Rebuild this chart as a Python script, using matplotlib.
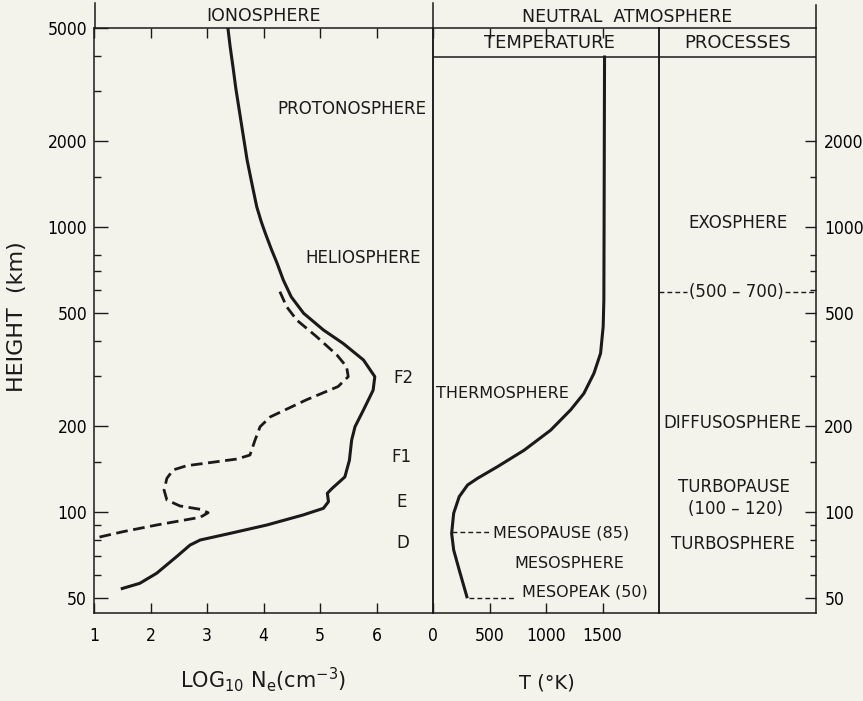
import numpy as np
import matplotlib.pyplot as plt
from matplotlib import font_manager
from matplotlib.lines import Line2D
from matplotlib.ticker import FixedLocator, NullFormatter, NullLocator

# ionosphere electron density, log10 Ne vs height (km)
ne_solid_x = [3.37, 3.41, 3.46, 3.51, 3.57, 3.64, 3.71, 3.80, 3.88, 3.96, 4.03, 4.14, 4.24,
              4.35, 4.49, 4.71, 5.06, 5.41, 5.77, 5.97, 5.94, 5.77, 5.62, 5.56, 5.52, 5.44,
              5.21, 5.13, 5.15, 5.06, 4.70, 4.06, 3.41, 2.88, 2.70, 2.46, 2.11, 1.81, 1.50]
ne_solid_h = [5000, 4297, 3650, 3071, 2580, 2106, 1720, 1406, 1180, 1046, 955, 836, 748,
              653, 570, 499, 436, 391, 342, 299, 268, 228.6, 199.6, 179, 152, 133,
              121, 116.5, 108.9, 103.2, 97.8, 90.2, 84.3, 79.9, 76.7, 69.8, 61.1, 56.3, 54.0]
ne_dash_x = [4.29, 4.41, 4.59, 4.94, 5.30, 5.47, 5.50, 5.32, 4.76, 4.12, 3.94, 3.85, 3.76,
             3.53, 2.64, 2.40, 2.29, 2.24, 2.29, 2.52, 2.88, 3.02, 2.88, 2.11, 1.52, 1.0]
ne_dash_h = [594, 526, 472, 413, 356, 324, 299, 276, 248, 216, 199.6, 179, 158.7,
             153.7, 145.6, 140.7, 131.5, 119.6, 110.4, 105.2, 102.4, 99.6, 96.0, 90.2, 85.5, 81.0]

# neutral temperature (K) vs height (km)
temp_T = [1518, 1514, 1512, 1506, 1483, 1424, 1335, 1218, 1041, 806, 571, 394, 306, 232,
          183, 165, 183, 232, 300]
temp_h = [3955, 1000, 555, 448, 361, 307, 261, 228.6, 194, 165, 144.5, 131.5, 124.6, 113.4,
          99.2, 84.3, 73.7, 62.7, 50.5]

height_ticks = [50, 100, 200, 500, 1000, 2000, 5000]
height_minor = [60, 70, 80, 90, 150, 300, 400, 600, 700, 800, 1500, 3000, 4000]
ne_ticks = [1, 2, 3, 4, 5, 6]
temp_ticks = [0, 500, 1000, 1500]

iono_labels = [('PROTONOSPHERE', 5.57, 2600), ('HELIOSPHERE', 5.76, 780),
               ('F2', 6.47, 296), ('F1', 6.45, 156), ('E', 6.45, 108.7), ('D', 6.47, 78)]
proc_labels = [('EXOSPHERE', 0.50, 1035), ('DIFFUSOSPHERE', 0.47, 205),
               ('TURBOPAUSE', 0.48, 122.6), ('(100 – 120)', 0.49, 102.6),
               ('TURBOSPHERE', 0.47, 77.4)]

W, H = 863, 701
bg = '#f3f3ec'
ink = '#1a1a1a'


def has_font(name):
    try:
        font_manager.findfont(name, fallback_to_default=False)
        return True
    except Exception:
        return False


# tick numbers in the original are set in a narrow face
if has_font('Liberation Sans Narrow'):
    num_kw = dict(family='Liberation Sans Narrow', fontsize=15)
else:
    num_kw = dict(family='DejaVu Sans', fontstretch='condensed', fontsize=12.5)

plt.rcParams['font.family'] = ['DejaVu Sans']
plt.rcParams['axes.linewidth'] = 1.1
plt.rcParams['axes.edgecolor'] = ink

fig = plt.figure(figsize=(W / 100, H / 100), dpi=100, facecolor=bg)


def box(x0, x1, y0=28, y1=613):
    return [x0 / W, 1 - y1 / H, (x1 - x0) / W, (y1 - y0) / H]


ax1 = fig.add_axes(box(94, 433))
ax2 = fig.add_axes(box(433, 659))
ax3 = fig.add_axes(box(659, 816))

for ax in (ax1, ax2, ax3):
    ax.set_facecolor('none')
    ax.set_yscale('log')
    ax.set_ylim(44.3, 5000)
    ax.yaxis.set_major_locator(FixedLocator(height_ticks))
    ax.yaxis.set_minor_locator(FixedLocator(height_minor))
    ax.yaxis.set_minor_formatter(NullFormatter())
    ax.set_yticklabels([str(v) for v in height_ticks], **num_kw)
    ax.tick_params(axis='both', which='both', direction='in', color=ink, width=1.0)

# ionosphere panel
ax1.plot(ne_solid_x, ne_solid_h, color=ink, lw=2.2, solid_joinstyle='round')
ax1.plot(ne_dash_x, ne_dash_h, color=ink, lw=2.0, dashes=(4.2, 2.0))
ax1.set_xlim(1, 7)
ax1.xaxis.set_major_locator(FixedLocator(ne_ticks))
ax1.set_xticklabels([str(v) for v in ne_ticks], **num_kw)
ax1.tick_params(axis='x', top=True, length=7, pad=10)
ax1.tick_params(axis='y', which='major', left=True, right=False, length=10, pad=5)
ax1.tick_params(axis='y', which='minor', left=True, right=False, length=5)
for txt, x, h in iono_labels:
    ax1.text(x, h, txt, ha='center', va='center', fontsize=12, color=ink)

# temperature panel
ax2.plot(temp_T, temp_h, color=ink, lw=2.2, solid_joinstyle='round')
ax2.set_xlim(0, 2000)
ax2.xaxis.set_major_locator(FixedLocator(temp_ticks))
ax2.set_xticklabels([str(v) for v in temp_ticks], **num_kw)
ax2.tick_params(axis='x', top=True, length=7, pad=10)
ax2.tick_params(axis='y', which='both', left=False, right=False, labelleft=False)
hdr_h = 3955
ax2.axhline(hdr_h, color=ink, lw=1.1)
ax2.text(618, 262, 'THERMOSPHERE', ha='center', va='center', fontsize=11.5, color=ink)
ax2.text(1209, 66.3, 'MESOSPHERE', ha='center', va='center', fontsize=11.5, color=ink)
ax2.plot([168, 510], [85, 85], color=ink, lw=1.0, dashes=(3.5, 2.2))
ax2.text(530, 84.5, 'MESOPAUSE (85)', ha='left', va='center', fontsize=11.5, color=ink)
ax2.plot([320, 730], [50.2, 50.2], color=ink, lw=1.0, dashes=(3.5, 2.2))
ax2.text(790, 52.5, 'MESOPEAK (50)', ha='left', va='center', fontsize=11.5, color=ink)
ax2.text(1030, 4430, 'TEMPERATURE', ha='center', va='center', fontsize=13, color=ink)

# processes panel
ax3.set_xlim(0, 1)
ax3.xaxis.set_major_locator(NullLocator())
ax3.axhline(hdr_h, color=ink, lw=1.1)
ax3.yaxis.tick_right()
ax3.set_yticks([v for v in height_ticks if v < 5000])
ax3.set_yticklabels([str(v) for v in height_ticks if v < 5000], **num_kw)
ax3.yaxis.set_minor_locator(FixedLocator([v for v in height_minor if v < 2000]))
ax3.tick_params(axis='y', which='major', right=True, left=False, length=8, pad=6)
ax3.tick_params(axis='y', which='minor', right=True, left=False, length=4.5)
for txt, x, h in proc_labels:
    ax3.text(x, h, txt, ha='center', va='center', fontsize=12, color=ink)
ax3.plot([0, 0.18], [594, 594], color=ink, lw=1.0, dashes=(3.5, 2.2))
ax3.plot([0.80, 1.0], [594, 594], color=ink, lw=1.0, dashes=(3.5, 2.2))
ax3.text(0.49, 594, '(500 – 700)', ha='center', va='center', fontsize=12, color=ink)
ax3.text(0.5, 4430, 'PROCESSES', ha='center', va='center', fontsize=13, color=ink)

# header row above the panels
for px, top in ((95, 3), (433, 3), (816, 5)):
    fig.add_artist(Line2D([px / W, px / W], [1 - 28 / H, 1 - top / H], color=ink, lw=1.1))
fig.text(263 / W, 1 - 16 / H, 'IONOSPHERE', ha='center', va='center', fontsize=12.5, color=ink)
fig.text(627 / W, 1 - 17 / H, 'NEUTRAL  ATMOSPHERE', ha='center', va='center', fontsize=12.5, color=ink)

# axis titles
fig.text(17 / W, 1 - 317 / H, 'HEIGHT  (km)', rotation=90, ha='center', va='center', fontsize=16, color=ink)
fig.text(263 / W, 1 - 680 / H, r'LOG$_{\mathregular{10}}$ N$_{\mathregular{e}}$(cm$^{\mathregular{-3}}$)',
         ha='center', va='center', fontsize=15, color=ink)
fig.text(547 / W, 1 - 683 / H, 'T (°K)', ha='center', va='center', fontsize=14, color=ink)

fig.savefig('out.png', dpi=100, facecolor=bg)
